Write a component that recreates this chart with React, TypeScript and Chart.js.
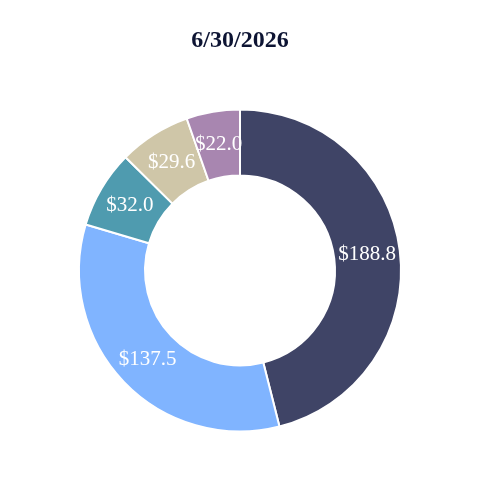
import React, { useEffect, useRef } from "react";
import { Chart, registerables } from "chart.js";

Chart.register(...registerables);

const titleText = "6/30/2026";
const categories = ["A", "B", "C", "D", "E"];
const values = [188.8, 137.5, 32.0, 29.6, 22.0];
const colors = ["#3F4466", "#80B4FF", "#4F9BAF", "#CFC6A8", "#A886B0"];

const labelPlugin = {
  id: "sliceLabels",
  afterDatasetsDraw(chart: any) {
    const ctx = chart.ctx;
    const meta = chart.getDatasetMeta(0);
    ctx.save();
    ctx.fillStyle = "#FFFFFF";
    ctx.font = '21px "Liberation Serif", "Times New Roman", serif';
    ctx.textAlign = "center";
    ctx.textBaseline = "middle";
    meta.data.forEach((arc: any, i: number) => {
      const p = arc.getCenterPoint();
      ctx.fillText("$" + values[i].toFixed(1), p.x, p.y);
    });
    ctx.restore();
  },
};

export default function App() {
  const ref = useRef<HTMLCanvasElement | null>(null);
  useEffect(() => {
    if (!ref.current) return;
    const chart = new Chart(ref.current, {
      type: "doughnut",
      data: {
        labels: categories,
        datasets: [
          {
            data: values,
            backgroundColor: colors,
            borderColor: "#FFFFFF",
            borderWidth: 2,
          },
        ],
      },
      options: {
        responsive: false,
        animation: false,
        cutout: "59%",
        layout: { padding: { top: 0, bottom: 46, left: 78, right: 78 } },
        plugins: {
          legend: { display: false },
          tooltip: { enabled: false },
          title: {
            display: true,
            text: titleText,
            color: "#0D1433",
            font: { family: '"Liberation Serif", "Times New Roman", serif', size: 24, weight: "bold" },
            padding: { top: 26, bottom: 52 },
          },
        },
      },
      plugins: [labelPlugin],
    });
    return () => chart.destroy();
  }, []);
  return (
    <div style={{ position: "fixed", left: 0, top: 0, width: 480, height: 480, background: "#fff" }}>
      <canvas ref={ref} width={480} height={480} style={{ width: 480, height: 480 }} />
    </div>
  );
}
